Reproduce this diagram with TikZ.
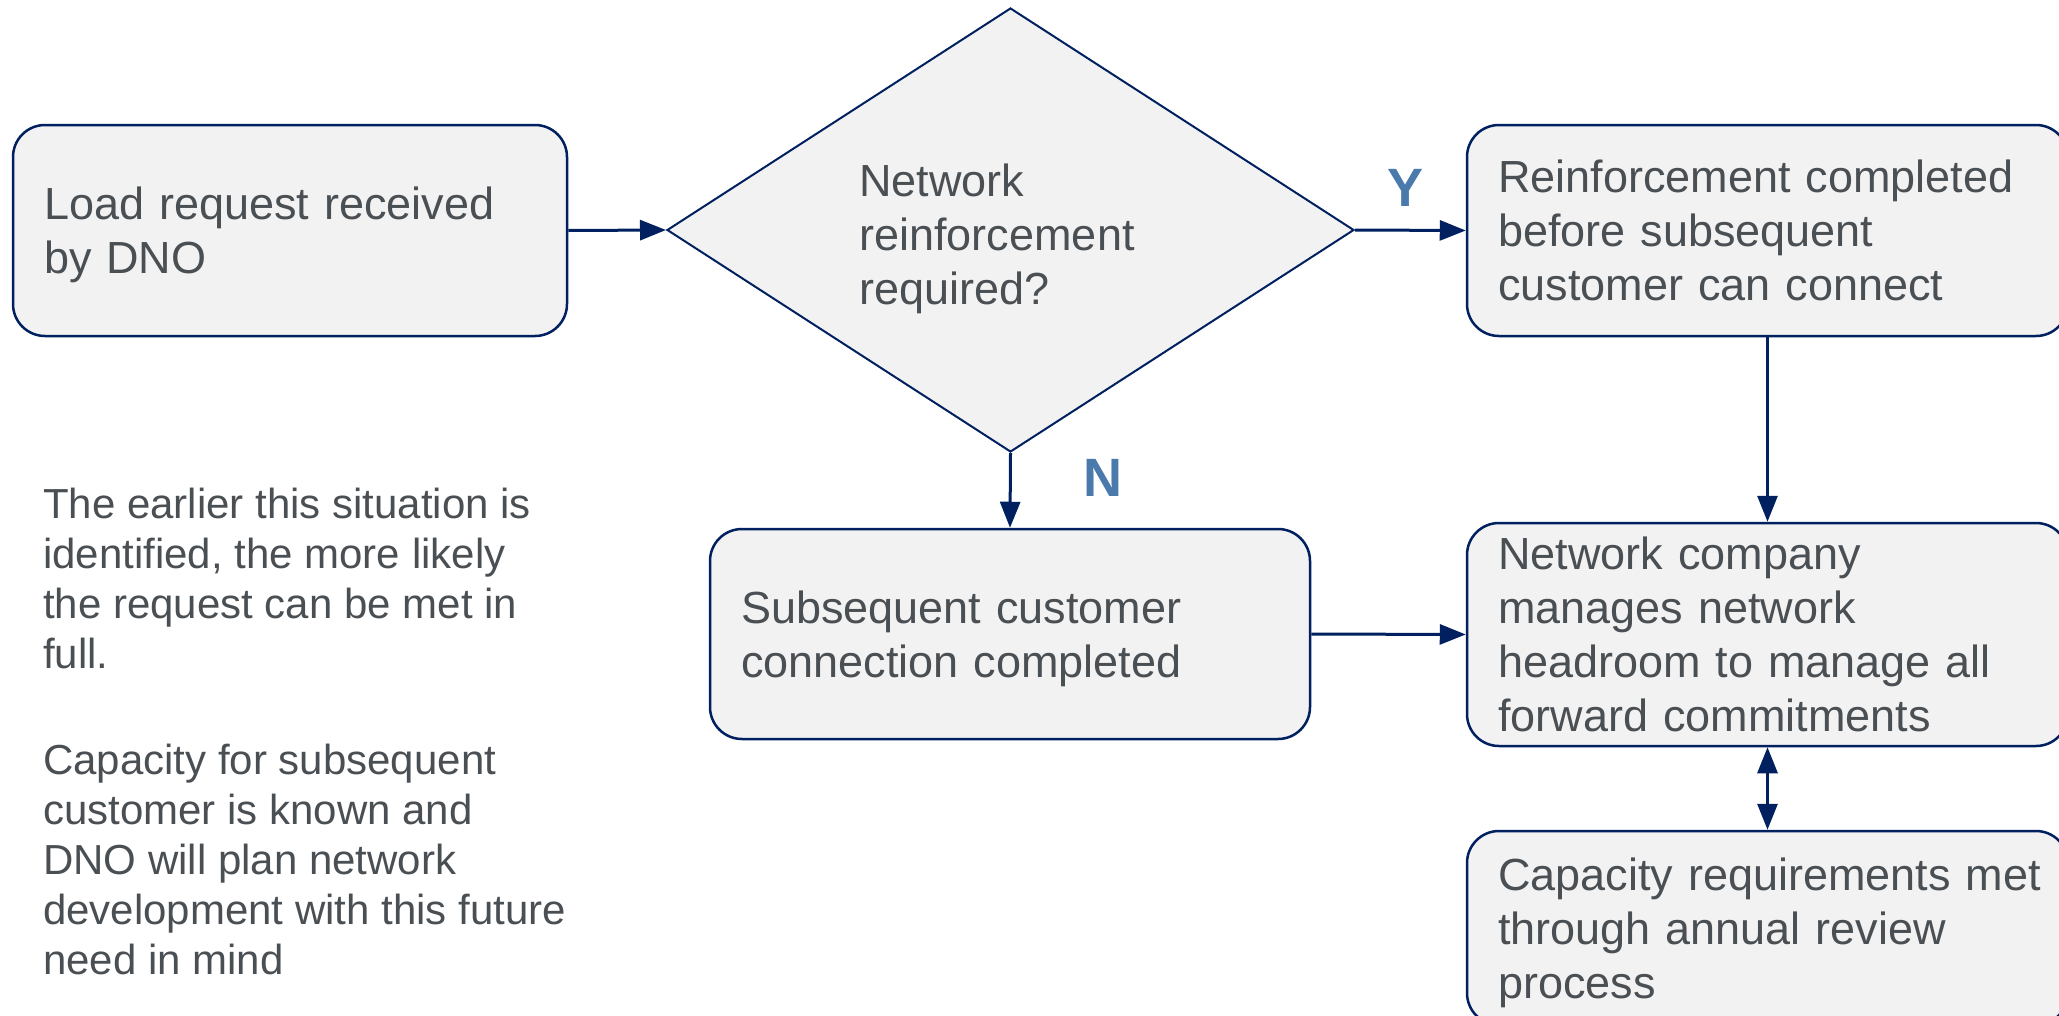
\documentclass[tikz,border=0pt]{standalone}
\usepackage{fontspec}
\setmainfont{Liberation Sans}
\usetikzlibrary{shapes.geometric,arrows.meta}
\definecolor{navy}{HTML}{002060}
\definecolor{boxfill}{HTML}{F2F2F2}
\definecolor{txt}{HTML}{4A4F54}
\definecolor{lbl}{HTML}{4A7AAB}
\begin{document}
\begin{tikzpicture}[x=1pt,y=-1pt,
  procbox/.style={draw=navy, line width=2.5pt, fill=boxfill, rounded corners=32pt,
    text=txt, align=left, font=\fontsize{45}{54}\selectfont, inner xsep=31pt, inner ysep=0pt},
  decbox/.style={diamond, draw=navy, line width=2pt, fill=boxfill, inner sep=0pt,
    minimum width=687pt, minimum height=444pt},
  dectext/.style={text=txt, align=left, font=\fontsize{45}{54}\selectfont, inner sep=0pt},
  conn/.style={draw=navy, line width=3pt, -{Triangle[length=26pt,width=20pt]}},
  yn/.style={text=lbl, font=\fontsize{54}{60}\selectfont\bfseries},
  note/.style={text=txt, align=left, font=\fontsize{42}{50}\selectfont, inner sep=0pt, anchor=north west}
]
\useasboundingbox (0,0) rectangle (2059,1015);

\node[procbox, minimum width=554pt, text width=492pt, minimum height=211pt] (load) at (290,230.5)
  {Load request received\\\smash{by DNO}};
\node[decbox] (dec) at (1010.5,230) {};
\node[dectext] (dectxt) at (997,239) {Network\\reinforcement\\required?};
\node[procbox, minimum width=601pt, text width=539pt, minimum height=211pt] (reinf) at (1767.5,230.5)
  {Reinforcement completed\\before subsequent\\customer can connect};
\node[procbox, minimum width=600pt, text width=538pt, minimum height=210pt] (subs) at (1010,634)
  {Subsequent customer\\\smash{connection completed}};
\node[procbox, minimum width=601pt, text width=539pt, minimum height=223pt] (netco) at (1767.5,634.5)
  {Network company\\manages network\\headroom to manage all\\forward commitments};
\node[procbox, minimum width=601pt, text width=539pt, minimum height=194pt] (cap) at (1767.5,928)
  {\mbox{Capacity requirements met}\\through annual review\\\smash{process}};

\node[yn] (ylab) at (1405,188) {Y};
\node[yn] (nlab) at (1103,478) {N};

\node[note] (notes) at (43,488)
  {The earlier this situation is\\identified, the more likely\\the request can be met in\\full.\\[56pt]Capacity for subsequent\\customer is known and\\DNO will plan network\\development with this future\\need in mind};

\draw[conn] (load.east) -- (dec.west);
\draw[conn] (dec.east) -- (reinf.west);
\draw[conn] (dec.south) -- (subs.north);
\draw[conn] (subs.east) -- (netco.west);
\draw[conn] (reinf.south) -- (netco.north);
\draw[conn, {Triangle[length=26pt,width=20pt]}-{Triangle[length=26pt,width=20pt]}] (netco.south) -- (cap.north);
\end{tikzpicture}
\end{document}
